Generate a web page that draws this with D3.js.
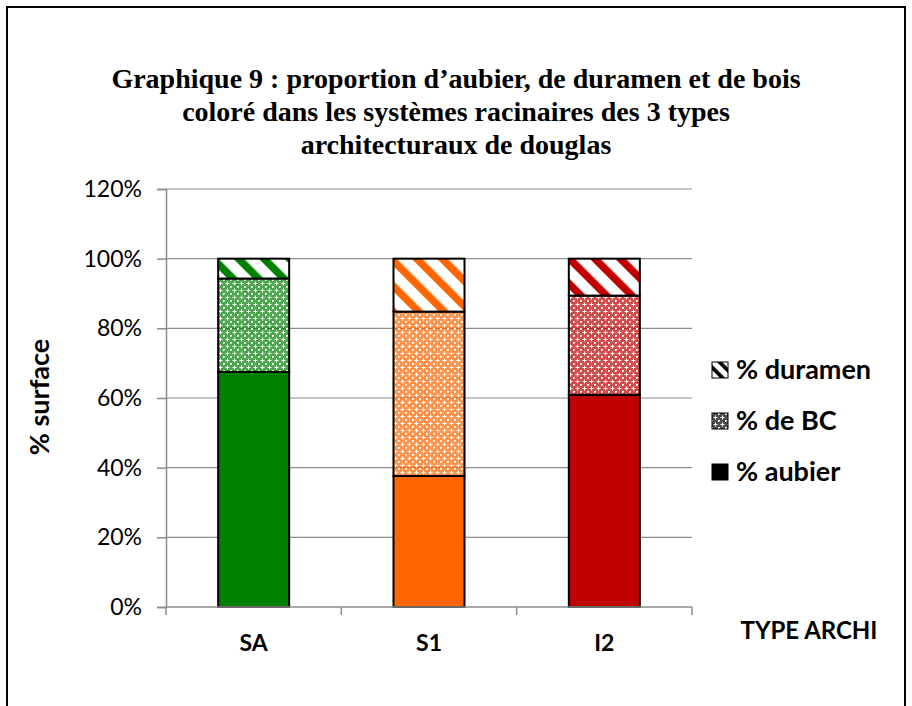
<!DOCTYPE html>
<html>
<head>
<meta charset="utf-8">
<script src="https://cdn.jsdelivr.net/npm/d3@7"></script>
<style>
  body { margin: 0; background: #fff; }
  svg { display: block; }
</style>
</head>
<body>
<div id="chart"><svg></svg></div>
<script>
// data
var categories = ["SA", "S1", "I2"];
var aubier = [0.675, 0.376, 0.609];
var bc = [0.268, 0.472, 0.285];
var duramen = [0.057, 0.152, 0.106];
var barColors = ["#008000", "#ff6600", "#c00000"];
var seriesNames = ["% aubier", "% de BC", "% duramen"];
var yTicks = [0, 0.2, 0.4, 0.6, 0.8, 1.0, 1.2];
var titleLines = [
  "Graphique 9 : proportion d\u2019aubier, de duramen et de bois",
  "coloré dans les systèmes racinaires des 3 types",
  "architecturaux de douglas"
];

var width = 912, height = 706;
var sans = "Lato, 'Open Sans', sans-serif";
var svg = d3.select("#chart svg").attr("width", width).attr("height", height);
var defs = svg.append("defs");

// outer frame
svg.append("rect")
  .attr("x", 7).attr("y", 7)
  .attr("width", 898).attr("height", 720)
  .attr("fill", "#fff")
  .attr("stroke", "#000")
  .attr("stroke-width", 2);

// patterns: stripes (duramen) and lattice (bois colore)
function makePatterns(id, color, size) {
  var s = defs.append("pattern")
    .attr("id", "stripe-" + id)
    .attr("patternUnits", "userSpaceOnUse")
    .attr("width", size).attr("height", size)
    .attr("patternTransform", "rotate(-45)");
  s.append("rect").attr("width", size).attr("height", size).attr("fill", "#fff");
  s.append("rect").attr("x", 0).attr("width", size * 0.42).attr("height", size).attr("fill", color);

  var c = defs.append("pattern")
    .attr("id", "lattice-" + id)
    .attr("patternUnits", "userSpaceOnUse")
    .attr("width", 7).attr("height", 7);
  c.append("rect").attr("width", 7).attr("height", 7).attr("fill", color).attr("opacity", 0.7);
  // white crosses
  c.append("path")
    .attr("d", "M3,1.5h1v1.5h1.5v1h-1.5v1.5h-1v-1.5h-1.5v-1h1.5z")
    .attr("fill", "#fff");
  c.append("path")
    .attr("d", "M0,0h1v0.5h-1z M6,0h1v1h-1z M0,6h1v1h-1z M6,6h1v1h-1z")
    .attr("fill", "#fff");
}
categories.forEach(function(d, i) { makePatterns(i, barColors[i], 18); });
makePatterns("k", "#000", 9);

// title
svg.append("g").selectAll("text")
  .data(titleLines)
  .enter().append("text")
  .attr("x", 456)
  .attr("y", function(d, i) { return 88 + i * 33; })
  .attr("text-anchor", "middle")
  .style("font-family", "'Liberation Serif', 'Times New Roman', serif")
  .style("font-weight", "bold")
  .style("font-size", "28px")
  .text(function(d) { return d; });

// scales
var x = d3.scaleBand()
  .domain(categories)
  .range([166, 692])
  .paddingInner(0.595)
  .paddingOuter(0.2975);
var y = d3.scaleLinear().domain([0, 1.2]).range([607, 189]);

// gridlines
svg.append("g").selectAll("line")
  .data(yTicks.slice(1))
  .enter().append("line")
  .attr("x1", 166).attr("x2", 692)
  .attr("y1", function(d) { return y(d); })
  .attr("y2", function(d) { return y(d); })
  .attr("stroke", "#8c8c8c").attr("stroke-width", 1.2);

// y axis
var yAxis = d3.axisLeft(y).tickValues(yTicks).tickFormat(d3.format(".0%")).tickSize(9).tickPadding(15);
var gy = svg.append("g").attr("transform", "translate(166,0)").call(yAxis);
gy.select(".domain").attr("stroke", "#8c8c8c").attr("stroke-width", 1.5);
gy.selectAll(".tick line").attr("stroke", "#8c8c8c").attr("stroke-width", 1.5);
gy.selectAll(".tick text")
  .style("font-family", sans)
  .style("font-size", "23px")
  .attr("fill", "#000");

// stacked bars
var stackData = categories.map(function(c, i) {
  return { cat: c, idx: i, aubier: aubier[i], bc: bc[i], duramen: duramen[i] };
});
var stack = d3.stack().keys(["aubier", "bc", "duramen"]);
var series = stack(stackData);
var fillFor = {
  aubier: function(i) { return barColors[i]; },
  bc: function(i) { return "url(#lattice-" + i + ")"; },
  duramen: function(i) { return "url(#stripe-" + i + ")"; }
};

svg.append("g").selectAll("g")
  .data(series)
  .enter().append("g")
  .each(function(s) {
    d3.select(this).selectAll("rect")
      .data(s)
      .enter().append("rect")
      .attr("x", function(d) { return x(d.data.cat); })
      .attr("width", x.bandwidth())
      .attr("y", function(d) { return y(d[1]); })
      .attr("height", function(d) { return y(d[0]) - y(d[1]); })
      .attr("fill", function(d) { return fillFor[s.key](d.data.idx); })
      .attr("stroke", "#000")
      .attr("stroke-width", 2);
  });

// x axis
var xTickPos = [166].concat(categories.map(function(c) { return x(c) + x.bandwidth() / 2 + x.step() / 2; }));
var gx = svg.append("g");
gx.append("line")
  .attr("x1", 166).attr("x2", 692).attr("y1", 607).attr("y2", 607)
  .attr("stroke", "#8c8c8c").attr("stroke-width", 1.5);
gx.selectAll(".xt")
  .data(xTickPos)
  .enter().append("line")
  .attr("class", "xt")
  .attr("x1", function(d) { return d; }).attr("x2", function(d) { return d; })
  .attr("y1", 607).attr("y2", 615)
  .attr("stroke", "#8c8c8c").attr("stroke-width", 1.5);
gx.selectAll("text")
  .data(categories)
  .enter().append("text")
  .attr("x", function(d) { return x(d) + x.bandwidth() / 2; })
  .attr("y", 651)
  .attr("text-anchor", "middle")
  .style("font-family", sans)
  .style("font-weight", "bold")
  .style("font-size", "23px")
  .text(function(d) { return d; });

// axis titles
svg.append("text")
  .attr("x", 809).attr("y", 639)
  .attr("text-anchor", "middle")
  .style("font-family", sans)
  .style("font-weight", "bold")
  .style("font-size", "24px")
  .text("TYPE ARCHI");

svg.append("text")
  .attr("transform", "translate(49,397) rotate(-90)")
  .attr("text-anchor", "middle")
  .style("font-family", sans)
  .style("font-weight", "bold")
  .style("font-size", "27px")
  .text("% surface");

// legend
var legendItems = [
  { name: seriesNames[2], fill: "url(#stripe-k)" },
  { name: seriesNames[1], fill: "url(#lattice-k)" },
  { name: seriesNames[0], fill: "#000" }
];
var lg = svg.append("g").selectAll("g")
  .data(legendItems)
  .enter().append("g")
  .attr("transform", function(d, i) { return "translate(712," + (370 + i * 51) + ")"; });
lg.append("rect")
  .attr("x", 0).attr("y", -8)
  .attr("width", 16).attr("height", 16)
  .attr("fill", function(d) { return d.fill; })
  .attr("stroke", "#000").attr("stroke-width", 1);
lg.append("text")
  .attr("x", 24).attr("y", 9)
  .style("font-family", sans)
  .style("font-weight", "bold")
  .style("font-size", "27px")
  .text(function(d) { return d.name; });
</script>
</body>
</html>
